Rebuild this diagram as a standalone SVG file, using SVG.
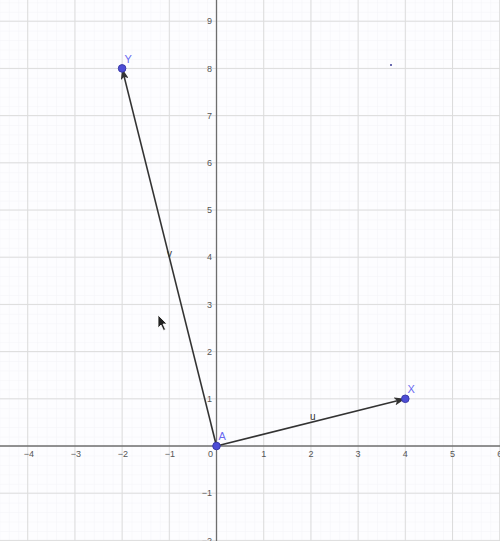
<svg xmlns="http://www.w3.org/2000/svg" width="500" height="541" viewBox="0 0 500 541">
<style>
.minor{stroke:#f4f4f7;stroke-width:1}
.major{stroke:#dcdcdc;stroke-width:1}
.axis{stroke:#6e6e6e;stroke-width:1.3}
.tick{font-family:"Liberation Sans",Arial,sans-serif;font-size:9px;fill:#555}
.vec{stroke:#333;stroke-width:1.6;fill:none}
.pt{fill:#4d4dd6;stroke:#3a3aa8;stroke-width:1}
.plab{font-family:"Liberation Sans",Arial,sans-serif;font-size:11px;fill:#6a6af0}
.vlab{font-family:"Liberation Sans",Arial,sans-serif;font-size:10px;fill:#333}
</style>
<defs>
<pattern id="mg" patternUnits="userSpaceOnUse" x="216.5" y="446" width="9.44" height="9.44">
<path d="M0 0 V9.44 M0 0 H9.44" class="minor"/>
</pattern>
<marker id="ah" markerUnits="userSpaceOnUse" markerWidth="12" markerHeight="8" refX="11" refY="4" orient="auto">
<path d="M0 0 L11 4 L0 8 L2.5 4 Z" fill="#333"/>
</marker>
</defs>
<rect width="500" height="541" fill="#fdfdff"/>
<rect width="500" height="541" fill="url(#mg)"/>
<g id="grid" class="major">
<line x1="27.7" y1="0" x2="27.7" y2="541"/>
<line x1="74.9" y1="0" x2="74.9" y2="541"/>
<line x1="122.1" y1="0" x2="122.1" y2="541"/>
<line x1="169.3" y1="0" x2="169.3" y2="541"/>
<line x1="263.7" y1="0" x2="263.7" y2="541"/>
<line x1="310.9" y1="0" x2="310.9" y2="541"/>
<line x1="358.1" y1="0" x2="358.1" y2="541"/>
<line x1="405.3" y1="0" x2="405.3" y2="541"/>
<line x1="452.5" y1="0" x2="452.5" y2="541"/>
<line x1="499.7" y1="0" x2="499.7" y2="541"/>
<line x1="0" y1="21.2" x2="500" y2="21.2"/>
<line x1="0" y1="68.4" x2="500" y2="68.4"/>
<line x1="0" y1="115.6" x2="500" y2="115.6"/>
<line x1="0" y1="162.8" x2="500" y2="162.8"/>
<line x1="0" y1="210" x2="500" y2="210"/>
<line x1="0" y1="257.2" x2="500" y2="257.2"/>
<line x1="0" y1="304.4" x2="500" y2="304.4"/>
<line x1="0" y1="351.6" x2="500" y2="351.6"/>
<line x1="0" y1="398.8" x2="500" y2="398.8"/>
<line x1="0" y1="493.2" x2="500" y2="493.2"/>
<line x1="0" y1="540.4" x2="500" y2="540.4"/>
</g>
<g id="axes">
<line class="axis" x1="0" y1="446" x2="500" y2="446"/>
<line class="axis" x1="216.5" y1="0" x2="216.5" y2="541"/>
<g class="tick" text-anchor="middle">
<text x="29" y="457">−4</text>
<text x="76" y="457">−3</text>
<text x="123" y="457">−2</text>
<text x="170" y="457">−1</text>
<text x="263.7" y="457">1</text>
<text x="310.9" y="457">2</text>
<text x="358.1" y="457">3</text>
<text x="405.3" y="457">4</text>
<text x="452.5" y="457">5</text>
<text x="499.7" y="457">6</text>
</g>
<g class="tick" text-anchor="end">
<text x="213" y="457">0</text>
<text x="212" y="24.3">9</text>
<text x="212" y="71.5">8</text>
<text x="212" y="118.7">7</text>
<text x="212" y="165.9">6</text>
<text x="212" y="213.1">5</text>
<text x="212" y="260.3">4</text>
<text x="212" y="307.5">3</text>
<text x="212" y="354.7">2</text>
<text x="212" y="401.9">1</text>
<text x="212" y="496.3">−1</text>
<text x="212" y="543.5">−2</text>
</g>
</g>
<g id="connectors">
<line id="u" class="vec" x1="216.5" y1="446" x2="405.3" y2="398.8" marker-end="url(#ah)"/>
<line id="v" class="vec" x1="216.5" y1="446" x2="122.1" y2="68.4" marker-end="url(#ah)"/>
<text class="vlab" x="310" y="420">u</text>
<text class="vlab" x="167" y="257">v</text>
</g>
<g id="A"><circle class="pt" cx="216.5" cy="446" r="3.8"/><text class="plab" x="218.5" y="440">A</text></g>
<g id="X"><circle class="pt" cx="405.3" cy="398.8" r="3.8"/><text class="plab" x="407.5" y="393">X</text></g>
<g id="Y"><circle class="pt" cx="122.1" cy="68.4" r="3.8"/><text class="plab" x="124.5" y="63">Y</text></g>
<rect x="390" y="64" width="2" height="2" fill="#6a6ab0"/>
<path d="M158 315 L158 328 L161 325 L163.5 330.5 L165.5 329.5 L163 324 L167 324 Z" fill="#222" stroke="#fff" stroke-width="0.8"/>
</svg>
